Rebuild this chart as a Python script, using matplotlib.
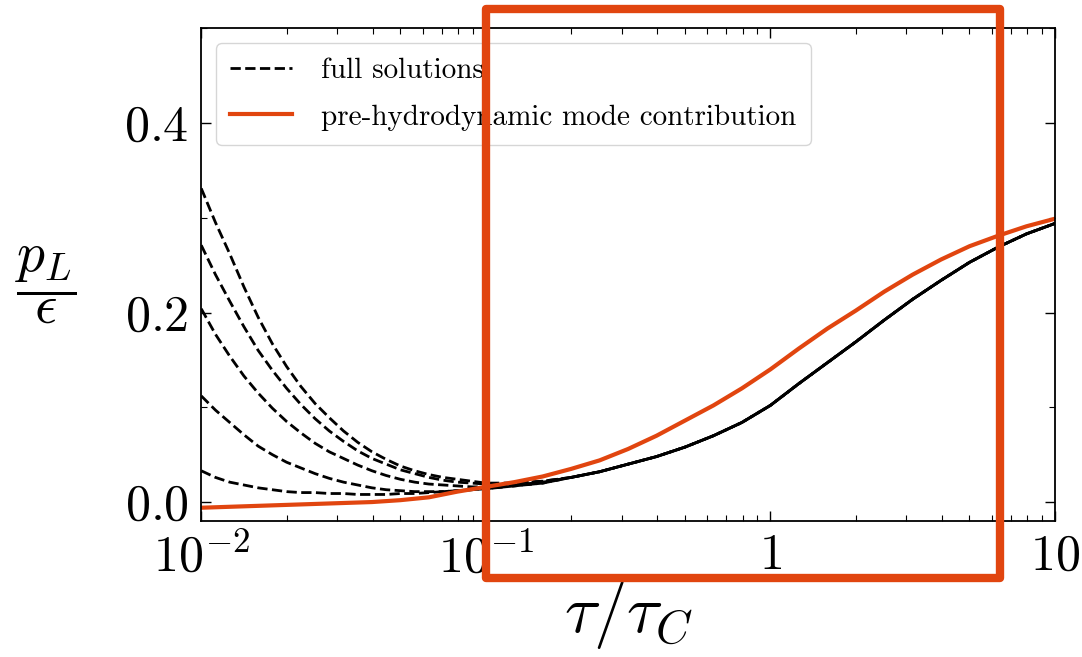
import matplotlib
matplotlib.use("Agg")
from matplotlib import pyplot as plt
from matplotlib.patches import Rectangle
from matplotlib.ticker import MultipleLocator, LogLocator, NullFormatter

plt.rcParams['mathtext.fontset'] = 'cm'
plt.rcParams['font.family'] = 'serif'
plt.rcParams['font.serif'] = ['cmr10', 'DejaVu Serif']
plt.rcParams['axes.unicode_minus'] = False
plt.rcParams['axes.formatter.use_mathtext'] = True

# sample points as log10(tau/tau_C)
log_tau = [-2.0, -1.95, -1.9, -1.85, -1.8, -1.75, -1.7, -1.65, -1.6, -1.55, -1.5,
           -1.45, -1.4, -1.35, -1.3, -1.25, -1.2, -1.15, -1.1, -1.05, -1.0,
           -0.9, -0.8, -0.7, -0.6, -0.5, -0.4, -0.3, -0.2, -0.1, 0.0,
           0.1, 0.2, 0.3, 0.4, 0.5, 0.6, 0.7, 0.8, 0.9, 1.0]

# common late-time part of the full solutions (from -0.7 on)
late = [0.026, 0.032, 0.040, 0.048, 0.058, 0.070, 0.084, 0.102,
        0.125, 0.147, 0.169, 0.192, 0.214, 0.234, 0.253, 0.269, 0.283, 0.294]

full_1 = [0.331, 0.295, 0.262, 0.227, 0.195, 0.167, 0.143, 0.122, 0.104, 0.089, 0.075,
          0.063, 0.053, 0.045, 0.038, 0.033, 0.029, 0.026, 0.024, 0.022, 0.020,
          0.020, 0.022] + late
full_2 = [0.271, 0.240, 0.212, 0.185, 0.160, 0.139, 0.120, 0.103, 0.088, 0.075, 0.064,
          0.054, 0.046, 0.040, 0.034, 0.030, 0.026, 0.023, 0.021, 0.020, 0.019,
          0.020, 0.022] + late
full_3 = [0.204, 0.177, 0.154, 0.133, 0.115, 0.099, 0.085, 0.073, 0.062, 0.053, 0.046,
          0.039, 0.033, 0.028, 0.024, 0.021, 0.019, 0.018, 0.017, 0.016, 0.016,
          0.018, 0.021] + late
full_4 = [0.112, 0.097, 0.084, 0.071, 0.059, 0.050, 0.042, 0.036, 0.030, 0.025, 0.021,
          0.018, 0.015, 0.013, 0.012, 0.011, 0.011, 0.011, 0.012, 0.013, 0.014,
          0.017, 0.020] + late
full_5 = [0.033, 0.026, 0.021, 0.018, 0.015, 0.013, 0.011, 0.010, 0.010, 0.009, 0.009,
          0.008, 0.008, 0.008, 0.009, 0.009, 0.010, 0.011, 0.012, 0.013, 0.014,
          0.017, 0.020] + late

# pre-hydrodynamic mode contribution
log_tau_pre = [-2.0, -1.9, -1.8, -1.7, -1.6, -1.5, -1.4, -1.3, -1.2, -1.1, -1.0,
               -0.9, -0.8, -0.7, -0.6, -0.5, -0.4, -0.3, -0.2, -0.1, 0.0,
               0.1, 0.2, 0.3, 0.4, 0.5, 0.6, 0.7, 0.8, 0.9, 1.0]
pre_hydro = [-0.006, -0.005, -0.004, -0.003, -0.002, -0.001, 0.000, 0.002, 0.005, 0.011, 0.016,
             0.021, 0.027, 0.035, 0.044, 0.056, 0.070, 0.086, 0.102, 0.120, 0.140,
             0.162, 0.183, 0.202, 0.222, 0.240, 0.256, 0.270, 0.281, 0.291, 0.299]

# highlighted window
box_tau = [0.1, 6.4]
box_p = [-0.08, 0.52]

red = '#e1450f'

tau = [10 ** e for e in log_tau]
tau_pre = [10 ** e for e in log_tau_pre]

fig = plt.figure(figsize=(10.82, 6.57), dpi=100)
ax = fig.add_axes([0.186, 0.207, 0.789, 0.750])

for i, f in enumerate([full_1, full_2, full_3, full_4, full_5]):
    ax.plot(tau, f, color='black', linestyle='--', linewidth=2.0,
            label='full solutions' if i == 0 else None)
ax.plot(tau_pre, pre_hydro, color=red, linewidth=3.0,
        label='pre-hydrodynamic mode contribution')

ax.set_xscale('log')
ax.set_xlim(0.01, 10)
ax.set_ylim(-0.02, 0.5)

ax.set_xticks([0.01, 0.1, 1, 10])
ax.set_xticklabels([r'$10^{-2}$', r'$10^{-1}$', r'$1$', r'$10$'])
ax.xaxis.set_minor_locator(LogLocator(base=10, subs=range(2, 10)))
ax.xaxis.set_minor_formatter(NullFormatter())
ax.set_yticks([0.0, 0.2, 0.4])
ax.set_yticklabels([r'$0.0$', r'$0.2$', r'$0.4$'])
ax.yaxis.set_minor_locator(MultipleLocator(0.1))

ax.tick_params(which='both', direction='in', top=True, right=True, labelsize=36)
ax.tick_params(which='major', length=7, width=1.0, pad=9)
ax.tick_params(which='minor', length=4, width=0.8)
for s in ax.spines.values():
    s.set_linewidth(1.3)

ax.set_xlabel(r'$\tau/\tau_C$', fontsize=48, labelpad=-2)
ax.set_ylabel(r'$\dfrac{p_L}{\epsilon}$', fontsize=40, rotation=0)
ax.yaxis.set_label_coords(-0.182, 0.395)

leg = ax.legend(loc='upper left', fontsize=21, handlelength=2.1, handletextpad=1.0,
                borderpad=0.5, labelspacing=0.7)
leg.set_zorder(5)

rect = Rectangle((box_tau[0], box_p[0]), box_tau[1] - box_tau[0], box_p[1] - box_p[0],
                 fill=False, edgecolor=red, linewidth=6, joinstyle='round',
                 clip_on=False, zorder=10)
ax.add_patch(rect)

fig.savefig('out.png', dpi=100)
